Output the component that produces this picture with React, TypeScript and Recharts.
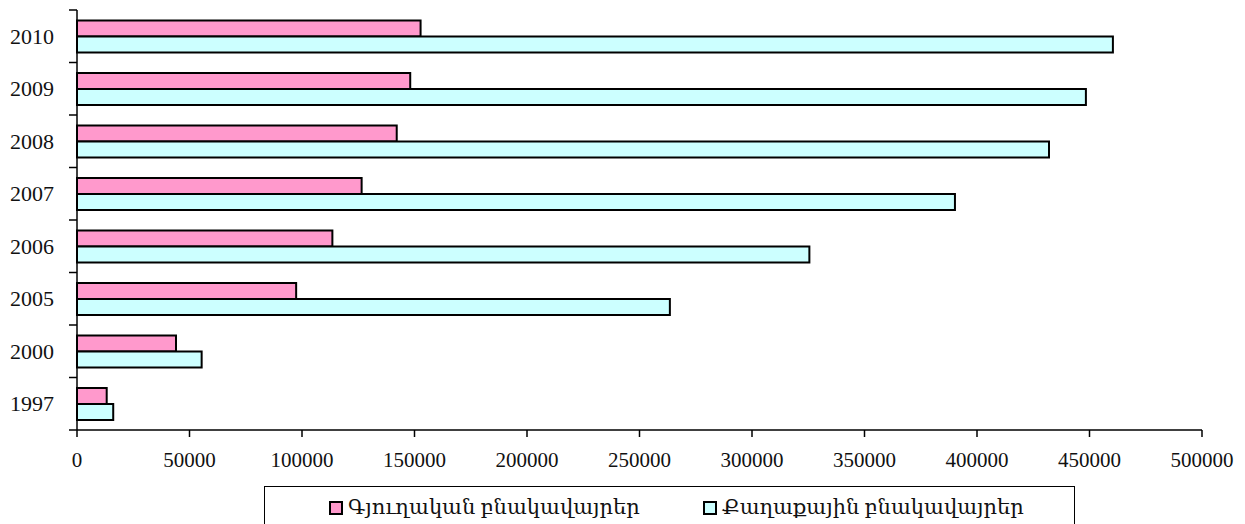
import React from "react";
import { Bar, BarChart, XAxis, YAxis } from "recharts";

// տարիները վերևից ներքև
const years = ["2010", "2009", "2008", "2007", "2006", "2005", "2000", "1997"];
const rural = [152700, 148100, 142100, 126500, 113500, 97400, 44000, 13200];
const urban = [460400, 448400, 432000, 390200, 325500, 263500, 55400, 16100];
const xTicks = [0, 50000, 100000, 150000, 200000, 250000, 300000, 350000, 400000, 450000, 500000];

const ruralName = "Գյուղական բնակավայրեր";
const urbanName = "Քաղաքային բնակավայրեր";
const ruralColor = "#ff99cc";
const urbanColor = "#ccffff";

const data = years.map((year, i) => ({ year, rural: rural[i], urban: urban[i] }));

const FONT = '"Liberation Serif", "DejaVu Serif", serif';
const PLOT_TOP = 10;
const PLOT_BOTTOM = 430;
const AXIS_X = 77;
const BAND = (PLOT_BOTTOM - PLOT_TOP) / years.length;

function YearTick(props: any) {
  const { y, payload, index } = props;
  const top = y - BAND / 2;
  const isLast = index === years.length - 1;
  return (
    <g>
      <line x1={AXIS_X - 8} x2={AXIS_X} y1={top} y2={top} stroke="#000" strokeWidth={1.5} />
      {isLast && (
        <line x1={AXIS_X - 8} x2={AXIS_X} y1={top + BAND} y2={top + BAND} stroke="#000" strokeWidth={1.5} />
      )}
      <text x={AXIS_X - 23} y={y} dy="0.35em" textAnchor="end" fontSize={22} fontFamily={FONT} fill="#111">
        {payload.value}
      </text>
    </g>
  );
}

const legendItems = [
  { name: ruralName, color: ruralColor, left: 328 },
  { name: urbanName, color: urbanColor, left: 702 },
];

function LegendBox() {
  return (
    <div
      style={{
        position: "absolute",
        left: 264,
        top: 486,
        width: 811,
        height: 50,
        border: "1px solid #000",
        boxSizing: "border-box",
        background: "#fff",
      }}
    >
      {legendItems.map((item) => (
        <div
          key={item.name}
          style={{
            position: "absolute",
            left: item.left - 264,
            top: 8,
            display: "flex",
            alignItems: "center",
            fontFamily: FONT,
            fontSize: 21,
            color: "#111",
            whiteSpace: "nowrap",
          }}
        >
          <span
            style={{
              display: "inline-block",
              width: 14,
              height: 14,
              boxSizing: "border-box",
              border: "2px solid #000",
              background: item.color,
              marginRight: 5,
            }}
          />
          {item.name}
        </div>
      ))}
    </div>
  );
}

export default function App() {
  return (
    <div style={{ position: "relative", width: 1245, height: 524, background: "#fff", overflow: "hidden" }}>
      <style>{`body{margin:0}`}</style>
      <BarChart
        layout="vertical"
        width={1245}
        height={524}
        data={data}
        margin={{ top: PLOT_TOP, right: 43, bottom: 54, left: 0 }}
        barCategoryGap="20%"
        barGap={0}
      >
        <YAxis
          type="category"
          dataKey="year"
          width={AXIS_X}
          axisLine={{ stroke: "#000", strokeWidth: 1.5 }}
          tickLine={false}
          tickSize={8}
          tickMargin={15}
          tick={<YearTick />}
          interval={0}
        />
        <XAxis
          type="number"
          domain={[0, 500000]}
          ticks={xTicks}
          interval={0}
          height={40}
          axisLine={{ stroke: "#000", strokeWidth: 1.5 }}
          tickLine={{ stroke: "#000", strokeWidth: 1.5 }}
          tickSize={7}
          tickMargin={15}
          tick={{ fill: "#111", fontSize: 21, fontFamily: FONT }}
        />
        <Bar
          dataKey="rural"
          name={ruralName}
          fill={ruralColor}
          stroke="#000"
          strokeWidth={2}
          isAnimationActive={false}
        />
        <Bar
          dataKey="urban"
          name={urbanName}
          fill={urbanColor}
          stroke="#000"
          strokeWidth={2}
          isAnimationActive={false}
        />
      </BarChart>
      <LegendBox />
    </div>
  );
}
